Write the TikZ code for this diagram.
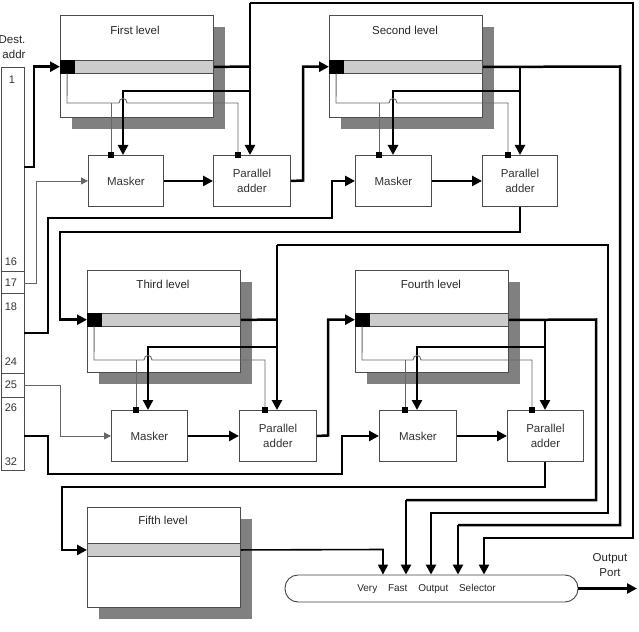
\documentclass[tikz,border=0pt]{standalone}
\usepackage{fontspec}
\setmainfont{Liberation Sans}
\usetikzlibrary{arrows.meta}
\tikzset{
  lvlshadow/.style={fill=black!50, draw=none, inner sep=0, anchor=north west, minimum width=153pt, minimum height=102pt},
  levelbox/.style={fill=white, draw=black!70, line width=0.9pt, inner sep=0, anchor=north west, minimum width=153pt, minimum height=102pt},
  barbox/.style={fill=black!20, draw=black!70, line width=0.9pt, inner sep=0, anchor=north west, minimum width=153pt, minimum height=13pt},
  sqbox/.style={fill=black, draw=black, inner sep=0, anchor=north west, minimum width=14pt, minimum height=13pt},
  unitbox/.style={draw=black!70, fill=white, line width=0.9pt, inner sep=0, anchor=north west, minimum height=51pt, align=center, font=\fontsize{11.5}{15}\selectfont, text=black!80},
  pinsq/.style={fill=black, draw=none, inner sep=0, minimum size=6pt},
  busline/.style={line width=2.5pt, draw=black},
  busarrow/.style={busline, -{Triangle[length=10pt,width=10pt]}},
  wireline/.style={draw=black!60, line width=0.9pt},
  wirearrow/.style={wireline, -{Triangle[length=7pt,width=7pt]}},
  lvltitle/.style={font=\fontsize{11.5}{13}\selectfont, text=black!85},
  addrlbl/.style={font=\fontsize{11}{12}\selectfont, text=black!80},
}
\begin{document}
\begin{tikzpicture}[x=1pt,y=-1pt]
\useasboundingbox (0,0) rectangle (639,631);

% ---------- address column ----------
\node[lvltitle] (hd1) at (12,40) {Dest.};
\node[lvltitle] (hd2) at (14,54) {addr};
\node[draw=black!70, line width=0.8pt, inner sep=0, anchor=north west, minimum width=23pt, minimum height=403pt] (addr) at (0.5,67) {};
\draw[draw=black!70, line width=0.8pt] (0.5,271) -- (23.5,271) (0.5,293) -- (23.5,293) (0.5,373) -- (23.5,373) (0.5,397) -- (23.5,397);
\node[addrlbl] (n1) at (12,80) {1};
\node[addrlbl] (n16) at (11,262) {16};
\node[addrlbl] (n17) at (11,283) {17};
\node[addrlbl] (n18) at (11,307) {18};
\node[addrlbl] (n24) at (11,362) {24};
\node[addrlbl] (n25) at (11,385) {25};
\node[addrlbl] (n26) at (11,408) {26};
\node[addrlbl] (n32) at (11,462) {32};
\coordinate (a1) at (23.5,167);
\coordinate (a17) at (23.5,283);
\coordinate (a18) at (23.5,333);
\coordinate (a25) at (23.5,385);
\coordinate (a26) at (23.5,436);

% ---------- level boxes ----------
\node[lvlshadow] (L1sh) at (72,27) {};
\node[levelbox] (L1) at (60,15) {};
\node[lvltitle] (L1t) at (135,30) {First level};
\node[barbox] (L1bar) at (60,60) {};
\node[sqbox] (L1sq) at (60,60) {};

\node[lvlshadow] (L2sh) at (341,27) {};
\node[levelbox] (L2) at (329,15) {};
\node[lvltitle] (L2t) at (405,30) {Second level};
\node[barbox] (L2bar) at (329,60) {};
\node[sqbox] (L2sq) at (329,60) {};

\node[lvlshadow] (L3sh) at (99,282) {};
\node[levelbox] (L3) at (87,270) {};
\node[lvltitle] (L3t) at (163,284) {Third level};
\node[barbox] (L3bar) at (87,313) {};
\node[sqbox] (L3sq) at (87,313) {};

\node[lvlshadow] (L4sh) at (367,282) {};
\node[levelbox] (L4) at (355,270) {};
\node[lvltitle] (L4t) at (431,284) {Fourth level};
\node[barbox] (L4bar) at (355,313) {};
\node[sqbox] (L4sq) at (355,313) {};

\node[lvlshadow, minimum height=100pt] (L5sh) at (99,519) {};
\node[levelbox, minimum height=100pt] (L5) at (87,507) {};
\node[lvltitle] (L5t) at (163,520) {Fifth level};
\node[barbox] (L5bar) at (87,543) {};

% ---------- maskers and adders ----------
\node[unitbox, minimum width=75pt] (M1) at (88,155) {Masker};
\node[unitbox, minimum width=77pt] (A1) at (213,155) {Parallel\\adder};
\node[unitbox, minimum width=76pt] (M2) at (355,155) {Masker};
\node[unitbox, minimum width=75pt] (A2) at (482,155) {Parallel\\adder};
\node[unitbox, minimum width=76pt] (M3) at (111,410) {Masker};
\node[unitbox, minimum width=77pt] (A3) at (239,410) {Parallel\\adder};
\node[unitbox, minimum width=77pt] (M4) at (379,410) {Masker};
\node[unitbox, minimum width=76pt] (A4) at (507,410) {Parallel\\adder};

% ---------- selector ----------
\node[draw=black!75, line width=0.9pt, rounded corners=13pt, minimum width=293pt, minimum height=27pt, inner sep=0, font=\fontsize{10}{12}\selectfont, text=black!85] (sel) at (431.5,588.5) {\hspace{-10pt}Very\hspace{8pt} Fast\hspace{8pt} Output\hspace{8pt} Selector};
\node[lvltitle, align=center, font=\fontsize{11.5}{15}\selectfont] (outp) at (610,565) {Output\\Port};
\coordinate (outend) at (637,588.5);
\draw[busarrow] (sel.east) -- (outend);

% ---------- address inputs ----------
\draw[busarrow] (a1) -- (34,167) |- (L1sq.west);
\draw[wirearrow] (a17) -- (36,283) |- (M1.west);
\draw[busarrow] (a18) -- (48,333) -- (48,218) -- (332,218) |- (M2.west);
\draw[wirearrow] (a25) -- (60,385) |- (M3.west);
\draw[busarrow] (a26) -- (48,436) -- (48,474) -- (342,474) |- (M4.west);

% ---------- level 1 ----------
\draw[busline] (L1bar.east) -- (250,66.5);
\draw[busarrow] (250,3) -- (250,0 |- A1.north);
\draw[busarrow] (250,91) -- (123,91) -- (123,0 |- M1.north);
\draw[busarrow] (250,3) -- (633,3) -- (633,538) -- (484,538) -- (484,0 |- sel.north);
\draw[wireline] (L1sq.south) -- (67,103) -- (119,103) .. controls (119,97) and (127,97) .. (127,103) -- (238,103) -- (238,155);
\draw[wireline] (111,103) -- (111,155);
\node[pinsq] (M1p) at (111,155) {};
\node[pinsq] (A1p) at (238,155) {};
\draw[busarrow] (M1.east) -- (A1.west);
\draw[busarrow] (A1.east) -- (303,180.5) |- (L2sq.west);

% ---------- level 2 ----------
\draw[busline] (L2bar.east) -- (620,66.5) -- (620,525) -- (458,525);
\draw[busarrow] (458,525) -- (458,0 |- sel.north);
\draw[busarrow] (520,66.5) -- (520,0 |- A2.north);
\draw[busarrow] (520,91) -- (393,91) -- (393,0 |- M2.north);
\draw[wireline] (L2sq.south) -- (336,103) -- (389,103) .. controls (389,97) and (397,97) .. (397,103) -- (508,103) -- (508,155);
\draw[wireline] (379,103) -- (379,155);
\node[pinsq] (M2p) at (379,155) {};
\node[pinsq] (A2p) at (508,155) {};
\draw[busarrow] (M2.east) -- (A2.west);
\draw[busarrow] (520,0 |- A2.south) -- (520,232) -- (60,232) |- (L3sq.west);

% ---------- level 3 ----------
\draw[busline] (L3bar.east) -- (277,319.5);
\draw[busarrow] (277,245) -- (277,0 |- A3.north);
\draw[busarrow] (277,245) -- (608,245) -- (608,513) -- (431,513) -- (431,0 |- sel.north);
\draw[busarrow] (277,347) -- (148,347) -- (148,0 |- M3.north);
\draw[wireline] (L3sq.south) -- (94,360) -- (144,360) .. controls (144,354) and (152,354) .. (152,360) -- (265,360) -- (265,410);
\draw[wireline] (136,360) -- (136,410);
\node[pinsq] (M3p) at (136,410) {};
\node[pinsq] (A3p) at (265,410) {};
\draw[busarrow] (M3.east) -- (A3.west);
\draw[busarrow] (A3.east) -- (328,435.5) |- (L4sq.west);

% ---------- level 4 ----------
\draw[busline] (L4bar.east) -- (596,319.5) -- (596,500) -- (406,500);
\draw[busarrow] (406,500) -- (406,0 |- sel.north);
\draw[busarrow] (545,319.5) -- (545,0 |- A4.north);
\draw[busarrow] (545,347) -- (417,347) -- (417,0 |- M4.north);
\draw[wireline] (L4sq.south) -- (362,360) -- (413,360) .. controls (413,354) and (421,354) .. (421,360) -- (532,360) -- (532,410);
\draw[wireline] (405,360) -- (405,410);
\node[pinsq] (M4p) at (405,410) {};
\node[pinsq] (A4p) at (532,410) {};
\draw[busarrow] (M4.east) -- (A4.west);
\draw[busarrow] (545,0 |- A4.south) -- (545,487) -- (62,487) |- (L5bar.west);

% ---------- level 5 ----------
\draw[line width=1.6pt, -{Triangle[length=10pt,width=10pt]}] (L5bar.east) -- (383,549.5) -- (383,0 |- sel.north);

\end{tikzpicture}
\end{document}
